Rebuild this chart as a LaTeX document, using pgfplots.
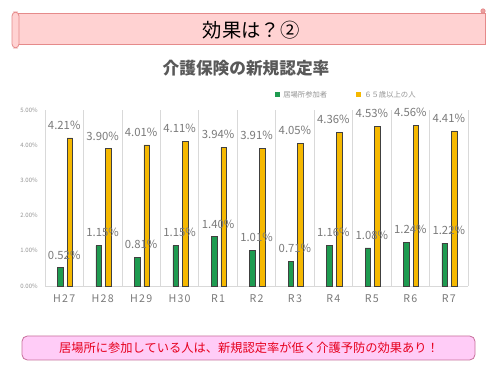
\documentclass[border=0pt]{standalone}
\usepackage{pgfplots}
\pgfplotsset{compat=1.18}
\usepackage{fontspec}
\setmainfont{Noto Sans CJK JP}

\definecolor{barGreen}{HTML}{1E9B50}
\definecolor{barGold}{HTML}{F5B800}
\definecolor{labelGray}{HTML}{7A7A7A}
\definecolor{titleGray}{HTML}{595959}
\definecolor{gridGray}{HTML}{D9D9D9}
\definecolor{bannerFill}{HTML}{FFD2D2}
\definecolor{bannerEdge}{HTML}{E58A8A}
\definecolor{noteFill}{HTML}{FFCCF7}
\definecolor{noteEdge}{HTML}{C8709C}
\definecolor{noteText}{HTML}{E6001E}

\begin{document}
\begin{tikzpicture}[x=0.75pt,y=0.75pt]
% canvas
\useasboundingbox (0,0) rectangle (500,375);
\fill[white] (0,0) rectangle (500,375);

% scroll banner
\filldraw[fill=bannerFill,draw=bannerEdge,line width=0.6pt] (17,362) rectangle (485,331);
\filldraw[fill=bannerFill,draw=bannerEdge,line width=0.6pt,rounded corners=3] (12,363) rectangle (19,327);
\filldraw[fill=bannerEdge!70!bannerFill,draw=bannerEdge,line width=0.5pt] (483,364) circle (2.2);
\node[font=\fontsize{14.5}{16}\selectfont] at (251,345) {効果は？②};

% chart title
\node[font=\fontsize{12.5}{14}\selectfont\bfseries,text=titleGray] at (246,307) {介護保険の新規認定率};

% legend
\fill[barGreen] (275,282.5) rectangle (280,277.5);
\node[anchor=west,font=\fontsize{5.5}{6}\selectfont,text=labelGray!80,inner sep=0] at (283,280) {居場所参加者};
\fill[barGold] (356,282.5) rectangle (361,277.5);
\node[anchor=west,font=\fontsize{5.5}{6}\selectfont,text=labelGray!80,inner sep=0] at (364,280) {６５歳以上の人};

\begin{axis}[
  at={(33.75pt,66.75pt)}, anchor=south west,
  scale only axis,
  width=317.25pt, height=132pt,
  xmin=-0.5, xmax=10.5,
  ymin=0, ymax=5,
  /pgf/number format/assume math mode=true,
  axis x line*=bottom,
  axis y line*=left,
  y axis line style={draw=none},
  x axis line style={draw=gridGray,line width=0.6pt},
  major tick length=0pt,
  minor tick length=0pt,
  xtick={0,...,10},
  xticklabels={H27,H28,H29,H30,R1,R2,R3,R4,R5,R6,R7},
  minor xtick={-0.5,0.5,...,10.5},
  xminorgrids=true,
  minor x grid style={draw=gridGray,line width=0.5pt},
  ytick={0,1,...,5},
  yticklabel={\pgfmathprintnumber[fixed,fixed zerofill,precision=2]{\tick}\%},
  yticklabel style={font=\fontsize{4.5}{5}\selectfont,text=labelGray!80,xshift=-2pt},
  xticklabel style={font=\fontsize{8}{9}\selectfont\addfontfeatures{LetterSpace=12},text=labelGray,yshift=-3pt},
  clip=false,
  every node near coord/.append style={
    font=\fontsize{8.5}{10}\selectfont, text=labelGray,
    anchor=base, inner sep=0pt, yshift=6.5pt},
  nodes near coords={\pgfmathprintnumber[fixed,fixed zerofill,precision=2]{\pgfplotspointmeta}\%},
]
% participants of community spaces
\addplot[ybar, bar width=4.2pt, bar shift=-3pt, fill=barGreen, draw=black!75, line width=0.4pt]
  coordinates {(0,0.52) (1,1.15) (2,0.81) (3,1.15) (4,1.40) (5,1.01) (6,0.71) (7,1.16) (8,1.08) (9,1.24) (10,1.22)};
% all residents aged 65 and over
\addplot[ybar, bar width=4.2pt, bar shift=4.2pt, fill=barGold, draw=black!75, line width=0.4pt]
  coordinates {(0,4.21) (1,3.90) (2,4.01) (3,4.11) (4,3.94) (5,3.91) (6,4.05) (7,4.36) (8,4.53) (9,4.56) (10,4.41)};
\end{axis}

% conclusion box
\filldraw[fill=noteFill,draw=noteEdge,line width=0.6pt,rounded corners=4] (22,39) rectangle (475,15);
\node[font=\fontsize{9.2}{11}\selectfont,text=noteText] at (249,27) {居場所に参加している人は、新規認定率が低く介護予防の効果あり！};
\end{tikzpicture}
\end{document}
